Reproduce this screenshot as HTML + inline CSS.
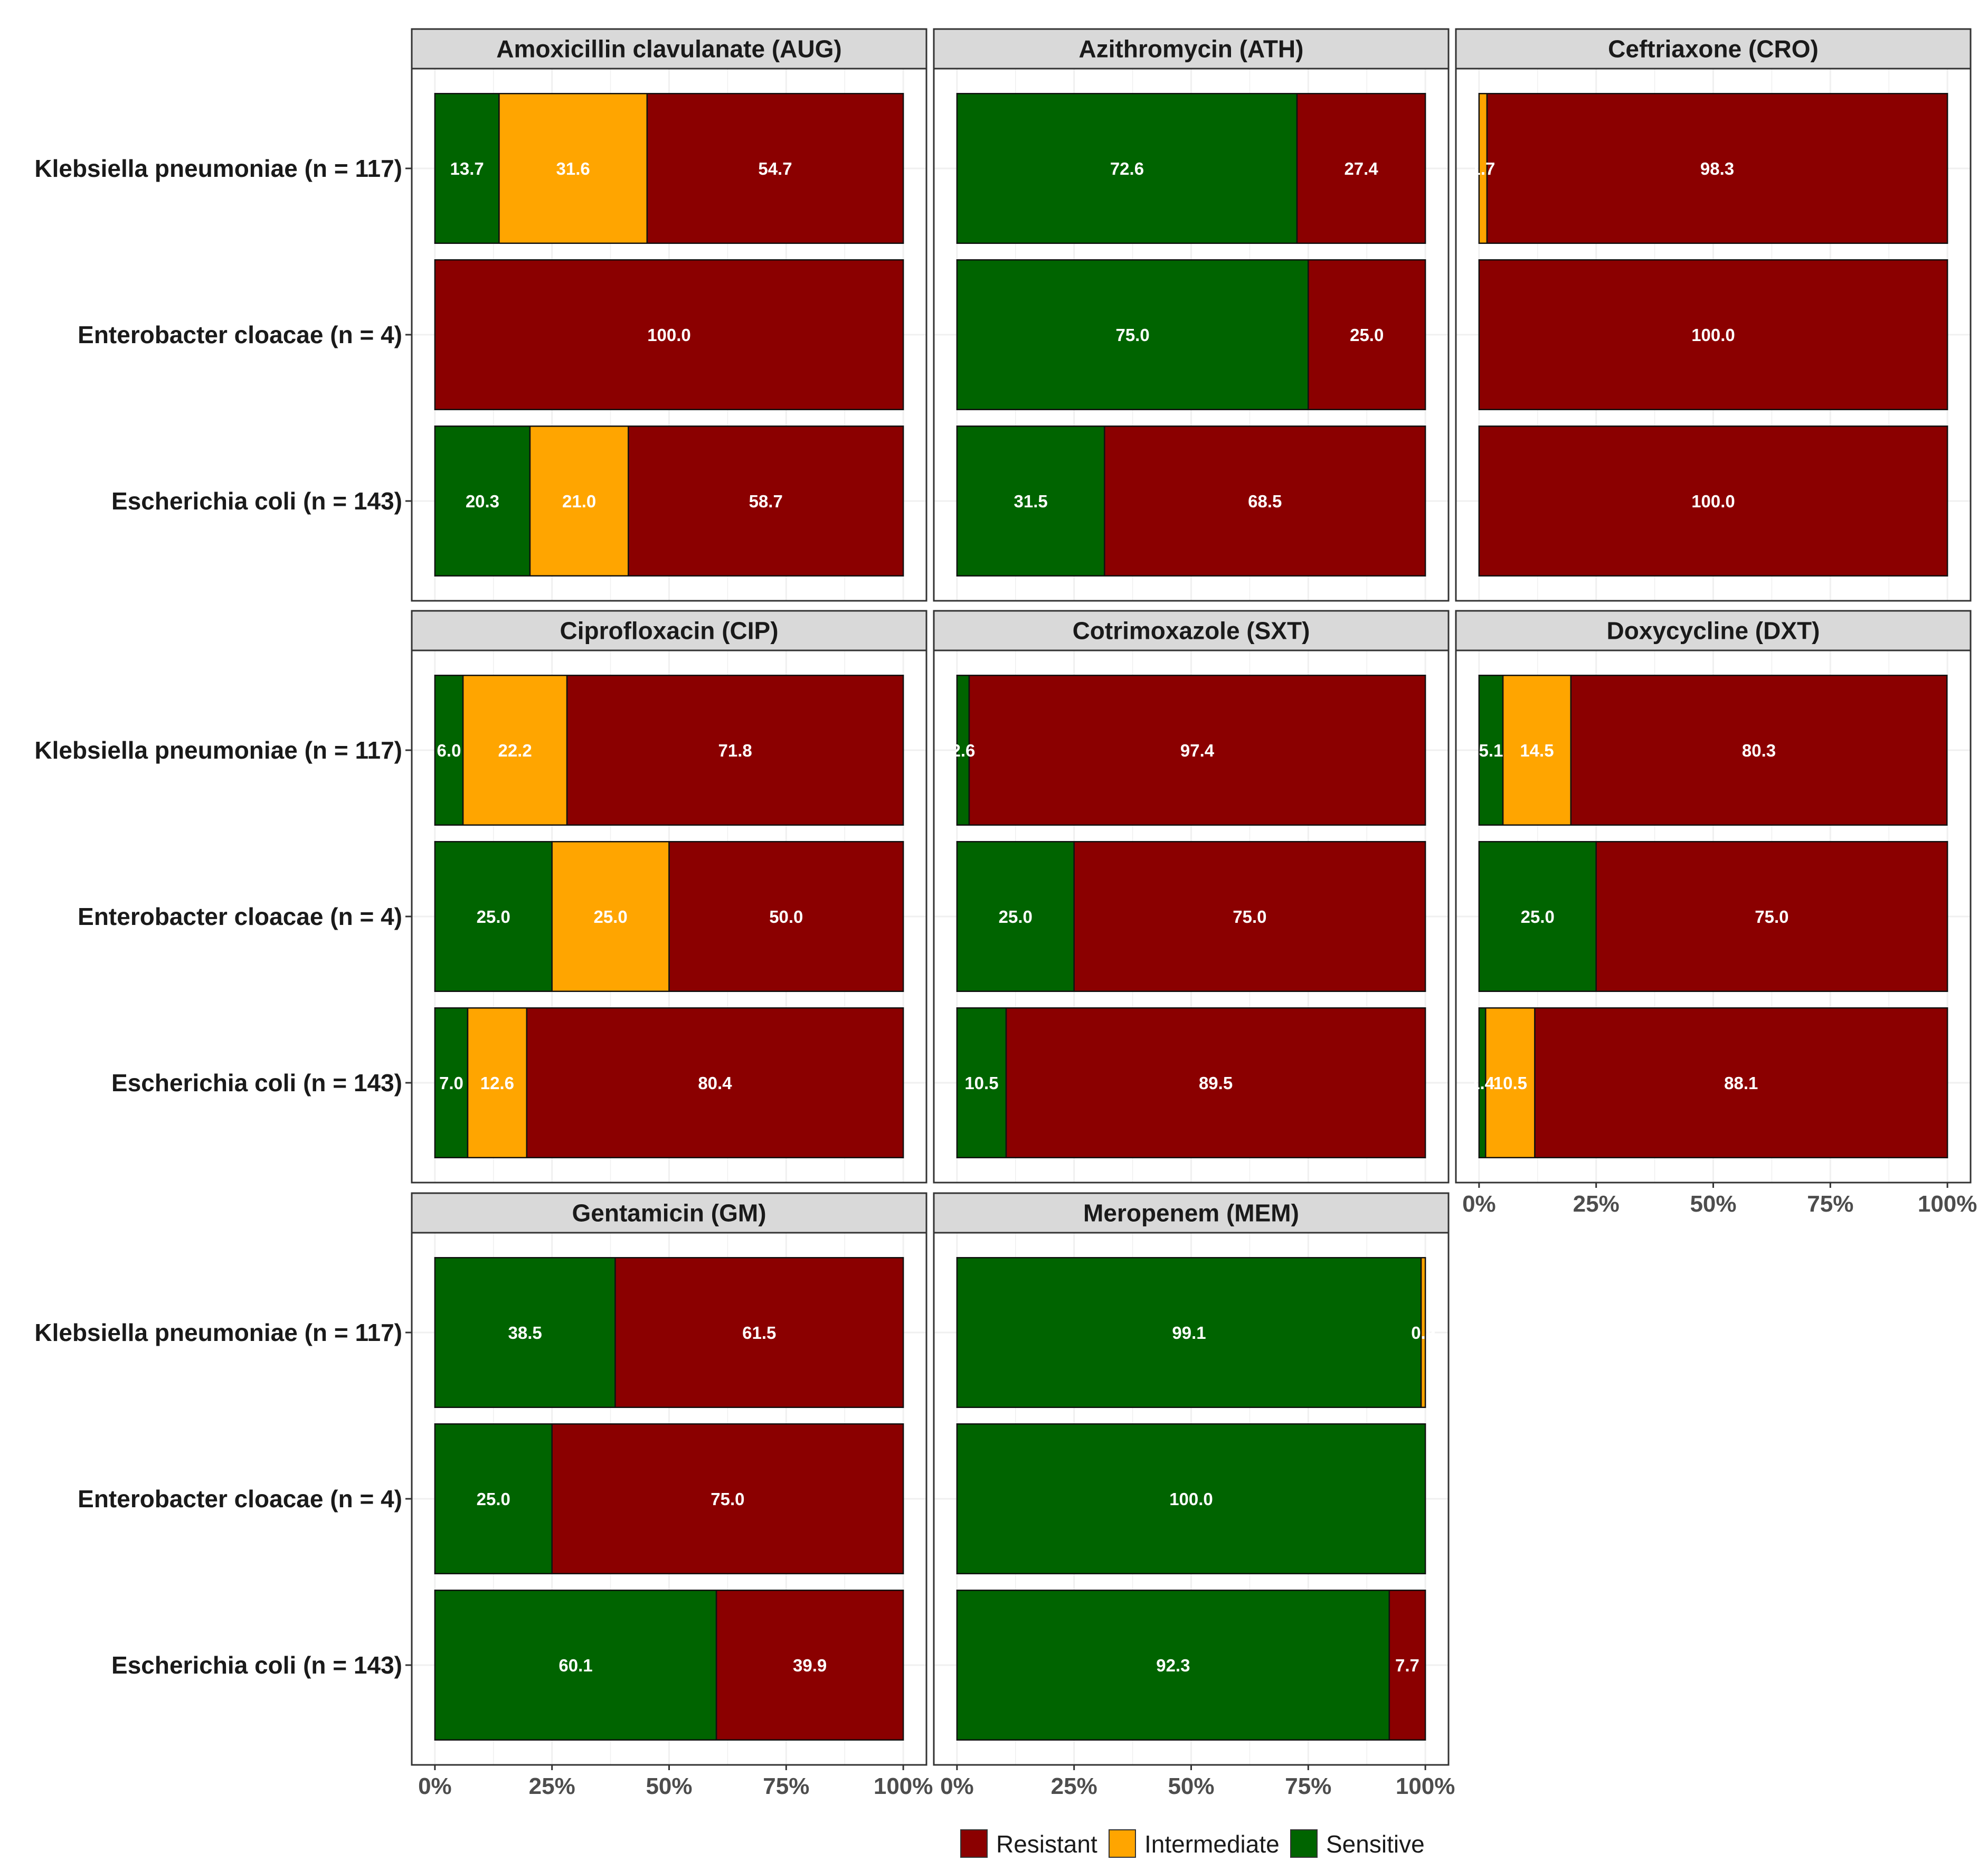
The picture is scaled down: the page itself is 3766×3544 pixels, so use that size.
<!DOCTYPE html>
<html><head><meta charset="utf-8"><style>
html,body{margin:0;padding:0;background:#fff;}
svg{display:block;font-family:"Liberation Sans",Arial,sans-serif;}
</style></head><body>
<svg id="chart" width="3766" height="3544" viewBox="0 0 3766 3544" xmlns="http://www.w3.org/2000/svg"></svg>
<script>
// ---- data ----
const organisms = ["Klebsiella pneumoniae (n = 117)", "Enterobacter cloacae (n = 4)", "Escherichia coli (n = 143)"];
const antibiotics = ["Amoxicillin clavulanate (AUG)", "Azithromycin (ATH)", "Ceftriaxone (CRO)", "Ciprofloxacin (CIP)", "Cotrimoxazole (SXT)", "Doxycycline (DXT)", "Gentamicin (GM)", "Meropenem (MEM)"];
const categories = ["Sensitive", "Intermediate", "Resistant"];
// per antibiotic: [organism][category]
const sensitive = [[13.7,0,20.3],[72.6,75.0,31.5],[0,0,0],[6.0,25.0,7.0],[2.6,25.0,10.5],[5.1,25.0,1.4],[38.5,25.0,60.1],[99.1,100.0,92.3]];
const intermediate = [[31.6,0,21.0],[0,0,0],[1.7,0,0],[22.2,25.0,12.6],[0,0,0],[14.5,0,10.5],[0,0,0],[0.9,0,0]];
const resistant = [[54.7,100.0,58.7],[27.4,25.0,68.5],[98.3,100.0,100.0],[71.8,50.0,80.4],[97.4,75.0,89.5],[80.3,75.0,88.1],[61.5,75.0,39.9],[0,0,7.7]];
const tickValues = [0,25,50,75,100];
const tickLabels = ["0%","25%","50%","75%","100%"];
const legendLabels = ["Resistant","Intermediate","Sensitive"];

const colors = {Sensitive:"#006400", Intermediate:"#FFA500", Resistant:"#8B0000"};
const NS="http://www.w3.org/2000/svg";
const svg=document.getElementById('chart');
function mk(tag, attrs, parent){const e=document.createElementNS(NS,tag);for(const k in attrs)e.setAttribute(k,attrs[k]);(parent||svg).appendChild(e);return e;}

const colLeft=[780,1769,2758], panelW=975;
const rowTop=[55,1157,2260], stripH=75, panelH=1008;
const expand=0.045;

antibiotics.forEach((ab,ai)=>{
  const col=ai%3,row=Math.floor(ai/3);
  const px=colLeft[col], sy=rowTop[row], py=sy+stripH;
  const g=mk('g',{});
  
  
  const xs=v=>px+panelW*expand+(panelW*(1-2*expand))*v/100;
  const unit=panelH/3.2;
  const yc=i=>py+(i+0.6)*unit;
  const st=mk('rect',{x:px,y:sy,width:panelW,height:stripH,fill:'#d9d9d9',stroke:'#333',"stroke-width":3},g);
  
  
  const stt=mk('text',{x:px+panelW/2,y:sy+stripH/2+16,"text-anchor":"middle","font-size":46,"font-weight":"bold",fill:"#1a1a1a"},g);
  stt.textContent=ab;
  
  
  mk('rect',{x:px,y:py,width:panelW,height:panelH,fill:'#fff'},g);
  for(let v=0;v<=100;v+=12.5){mk('line',{x1:xs(v),x2:xs(v),y1:py,y2:py+panelH,stroke:'#f0f0f0',"stroke-width":v%25===0?3:1.5},g);}
  for(let i=0;i<3;i++){mk('line',{x1:px,x2:px+panelW,y1:yc(i),y2:yc(i),stroke:'#f0f0f0',"stroke-width":3},g);}
  organisms.forEach((org,oi)=>{
    const vals=[sensitive[ai][oi],intermediate[ai][oi],resistant[ai][oi]];
    let acc=0;
    const bh=unit*0.9, by=yc(oi)-bh/2;
    const labels=[];
    vals.forEach((v,ci)=>{
      if(v<=0)return;
      const r=mk('rect',{x:xs(acc),y:by,width:xs(acc+v)-xs(acc),height:bh,fill:colors[categories[ci]],stroke:'#111',"stroke-width":2.5},g);
      
      
      labels.push([xs(acc+v/2),v]);
      acc+=v;
    });
    labels.forEach(([lx,v])=>{
      const t=mk('text',{x:lx,y:yc(oi)+12,"text-anchor":"middle","font-size":33,"font-weight":"bold",fill:"#fff"},g);
      t.textContent=v.toFixed(1);
      
      
    });
    if(col===0){
      mk('line',{x1:px-12,x2:px,y1:yc(oi),y2:yc(oi),stroke:'#333',"stroke-width":3},g);
      const yl=mk('text',{x:px-18,y:yc(oi)+16,"text-anchor":"end","font-size":46,"font-weight":"bold",fill:"#1a1a1a"},g);
      yl.textContent=org;
      
      
    }
  });
  mk('rect',{x:px,y:py,width:panelW,height:panelH,fill:'none',stroke:'#333',"stroke-width":3},g);
  const showX = (row===2) || (row===1 && col===2);
  if(showX){
    tickValues.forEach((tv,ti)=>{
      mk('line',{x1:xs(tv),x2:xs(tv),y1:py+panelH,y2:py+panelH+10,stroke:'#333',"stroke-width":3},g);
      const tl=mk('text',{x:xs(tv),y:py+panelH+55,"text-anchor":"middle","font-size":44,"font-weight":"bold",fill:"#4d4d4d"},g);
      tl.textContent=tickLabels[ti];
      
      
    });
  }
});

const lg=mk('g',{});


const lx=[1820,2101,2445], tx=[1887,2168,2512];
legendLabels.forEach((l,i)=>{
  const k=mk('rect',{x:lx[i],y:3466,width:50,height:52,fill:colors[l],stroke:'#333',"stroke-width":2},lg);
  
  
  const t=mk('text',{x:tx[i],y:3509,"font-size":46,fill:"#1a1a1a"},lg);
  t.textContent=l;
  
  
});
</script>
</body></html>
